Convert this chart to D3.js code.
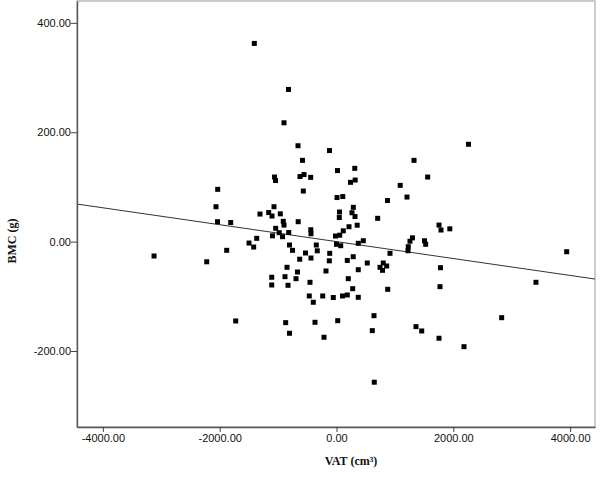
<!DOCTYPE html>
<html>
<head>
<meta charset="utf-8">
<script src="https://cdn.jsdelivr.net/npm/d3@7/dist/d3.min.js"></script>
<style>
  html, body { margin: 0; padding: 0; background: #fff; }
  svg { display: block; }
</style>
</head>
<body>
<svg id="chart" width="600" height="481"></svg>
<script>
// ---- data ----
const vat = [
  -1407, -822, -899, -1061, -1044, -2034, -2063, -1310, -1161, -1070,
  -962, -1104, -659, -582, -625, -556, -442, -568, -120, 17,
  313, 240, 320, 9, 108, 51, 48, 288, 265, 317,
  1327, 1561, 1091, 1207, 873, 2260, 705, -2037, -1811, -911,
  -899, -1041, -981, -1096, -924, -818, -1366, -1498, -1418, -1880,
  -3124, -2222, -805, -1726, -1109, -1109, -882, -847, -830, -870,
  -805, -656, -440, -437, 116, 214, 354, -17, 55, 0,
  72, 373, 459, -753, -346, -329, -531, -630, -437, -116,
  -123, 185, 286, 527, 916, 745, 801, 859, 788, 1229,
  1224, 1258, 1301, 1507, 1527, 1755, 1789, 1940, -668, -693,
  -180, 373, -454, 202, 277, 877, -466, -397, -236, -55,
  103, 185, 373, 1780, 1772, -368, 21, 642, 613, -214,
  1361, 1459, 1755, 647, 3941, 3415, 2828, 2183
];
const bmc = [
  362.4, 278.3, 217.3, 118.1, 111.7, 95.6, 63.8, 50.4, 53.2, 63.8,
  50.8, 46.8, 175.3, 148.6, 119.0, 122.6, 117.5, 92.5, 166.5, 129.9,
  134.0, 108.4, 112.6, 80.6, 82.4, 54.1, 44.0, 62.7, 52.8, 45.9,
  148.6, 118.1, 102.9, 81.5, 75.1, 178.0, 42.6, 36.4, 34.9, 37.1,
  30.3, 24.3, 16.3, 10.6, 9.0, 16.6, 6.0, -2.6, -9.9, -15.9,
  -26.3, -36.9, -6.2, -145.1, -65.2, -79.3, -64.1, -47.0, -79.9, -148.2,
  -167.6, 36.4, 21.7, 14.4, 19.7, 27.2, 30.0, 10.2, 11.7, -4.9,
  -7.5, -3.1, 1.6, -15.9, -6.2, -16.8, -20.8, -32.2, -30.0, -21.4,
  -35.1, -34.4, -27.6, -39.1, -21.4, -47.0, -39.1, -44.6, -52.5, -9.3,
  -16.6, 0.7, 6.9, 1.5, -4.9, 30.3, 21.2, 23.4, -55.6, -67.8,
  -53.7, -51.4, -74.4, -67.8, -86.1, -87.2, -99.4, -110.9, -99.4, -102.2,
  -99.4, -97.6, -101.8, -47.7, -82.4, -147.5, -144.6, -135.4, -162.8, -174.9,
  -155.5, -163.4, -176.7, -257.1, -18.5, -74.4, -139.1, -192.1
];
const xTicks = [-4000, -2000, 0, 2000, 4000];
const yTicks = [-200, 0, 200, 400];
const xDomain = [-4443, 4426];
const yDomain = [-339, 440];
const fitIntercept = 0.0;
const fitSlope = -0.01546;
const xTitle = "VAT (cm³)";
const yTitle = "BMC (g)";

// ---- layout ----
const L = 77, R = 595, T = 1, B = 427;
const svg = d3.select("#chart");
const x = d3.scaleLinear().domain(xDomain).range([L, R]);
const y = d3.scaleLinear().domain(yDomain).range([B, T]);
const fmt = d => d.toFixed(2);

// frame (top/right)
svg.append("rect")
  .attr("x", L).attr("y", T).attr("width", R - L).attr("height", B - T)
  .attr("fill", "#fff").attr("stroke", "#9a9a9a").attr("stroke-width", 1);

// regression line
const clipId = "plotclip";
svg.append("clipPath").attr("id", clipId).append("rect")
  .attr("x", L).attr("y", T).attr("width", R - L).attr("height", B - T);
svg.append("line")
  .attr("clip-path", `url(#${clipId})`)
  .attr("x1", x(xDomain[0])).attr("y1", y(fitIntercept + fitSlope * xDomain[0]))
  .attr("x2", x(xDomain[1])).attr("y2", y(fitIntercept + fitSlope * xDomain[1]))
  .attr("stroke", "#333").attr("stroke-width", 1);

// points
const pts = vat.map((v, i) => ({ x: v, y: bmc[i] }));
const s = 5;
svg.append("g").selectAll("rect").data(pts).join("rect")
  .attr("x", d => x(d.x) - s / 2)
  .attr("y", d => y(d.y) - s / 2)
  .attr("width", s).attr("height", s)
  .attr("fill", "#000");

// axes
const xAxis = svg.append("g").attr("transform", `translate(0,${B})`)
  .call(d3.axisBottom(x).tickValues(xTicks).tickFormat(fmt).tickSize(5).tickSizeOuter(0));
const yAxis = svg.append("g").attr("transform", `translate(${L},0)`)
  .call(d3.axisLeft(y).tickValues(yTicks).tickFormat(fmt).tickSize(6).tickSizeOuter(0));

[xAxis, yAxis].forEach(g => {
  g.select(".domain").attr("stroke", "#555").attr("stroke-width", 1.4);
  g.selectAll(".tick line").attr("stroke", "#444").attr("stroke-width", 1);
  g.selectAll(".tick text")
    .attr("fill", "#111")
    .style("font-family", "'Liberation Sans', Arial, sans-serif")
    .style("font-size", "11px");
});
xAxis.selectAll(".tick text").attr("dy", "0.71em").attr("y", 7);
yAxis.selectAll(".tick text").attr("x", -6);

// titles
svg.append("text")
  .attr("x", 351).attr("y", 465)
  .attr("text-anchor", "middle")
  .style("font-family", "'Liberation Serif', 'Times New Roman', serif")
  .style("font-weight", "bold").style("font-size", "12px")
  .attr("fill", "#111")
  .text(xTitle);
svg.append("text")
  .attr("transform", "translate(16,241) rotate(-90)")
  .attr("text-anchor", "middle")
  .style("font-family", "'Liberation Serif', 'Times New Roman', serif")
  .style("font-weight", "bold").style("font-size", "12px")
  .attr("fill", "#111")
  .text(yTitle);
</script>
</body>
</html>
